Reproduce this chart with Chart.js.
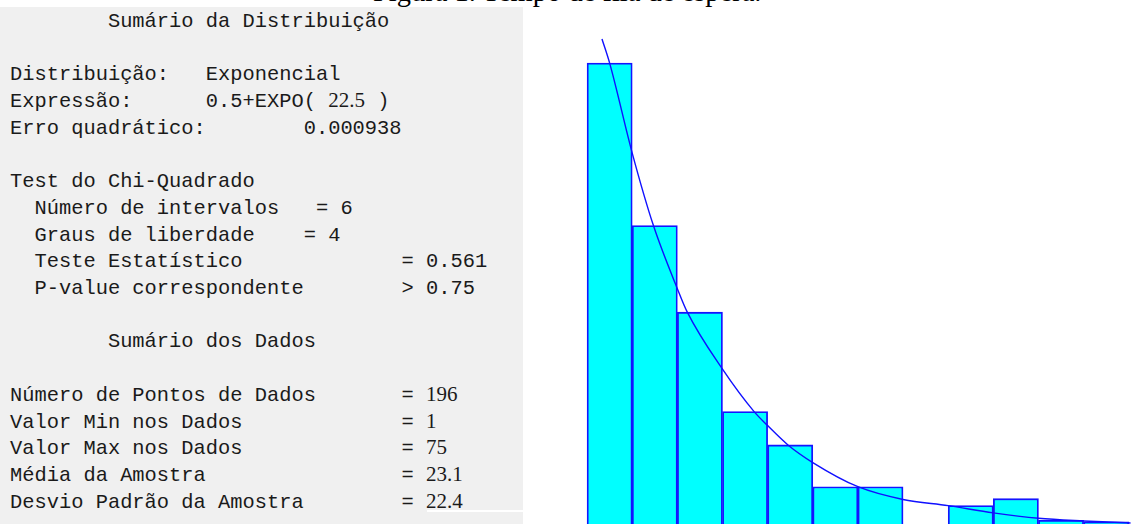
<!DOCTYPE html>
<html lang="pt">
<head>
<meta charset="utf-8">
<title>Sumário da Distribuição</title>
<script src="https://cdn.jsdelivr.net/npm/chart.js@4/dist/chart.umd.min.js"></script>
<style>
    html, body {
        margin: 0;
        padding: 0;
        width: 1131px;
        height: 524px;
        overflow: hidden;
        background: #ffffff;
    }
    #caption {
        position: absolute;
        left: 373px;
        top: -22px;
        font-family: "Liberation Serif", serif;
        font-size: 28.5px;
        line-height: 28px;
        color: #000;
        white-space: nowrap;
    }
    #panel {
        position: absolute;
        left: 0;
        top: 7px;
        width: 523px;
        height: 517px;
        background: #f0f0f0;
    }
    #panel .whiteline {
        position: absolute;
        left: 427px;
        top: 503px;
        width: 96px;
        height: 2px;
        background: #ffffff;
    }
    #summary {
        position: absolute;
        left: 10px;
        top: 2px;
        margin: 0;
        font-family: "Liberation Mono", monospace;
        font-size: 20.4px;
        line-height: 26.7px;
        color: #1a1a1a;
    }
    #summary .num {
        font-family: "Liberation Serif", serif;
        font-size: 21px;
        line-height: 0;
    }
    #chartBox {
        position: absolute;
        left: 560px;
        top: 0;
        width: 571px;
        height: 529px;
    }
</style>
</head>
<body>
<div id="caption">Figura 1. Tempo de fila de espera.</div>

<div id="panel">
<pre id="summary">        Sumário da Distribuição

Distribuição:   Exponencial
Expressão:      0.5+EXPO( <span class="num">22.5</span> )
Erro quadrático:        0.000938

Test do Chi-Quadrado
  Número de intervalos   = 6
  Graus de liberdade    = 4
  Teste Estatístico             = 0.561
  P-value correspondente        &gt; 0.75

        Sumário dos Dados

Número de Pontos de Dados       = <span class="num">196</span>
Valor Min nos Dados             = <span class="num">1</span>
Valor Max nos Dados             = <span class="num">75</span>
Média da Amostra                = <span class="num">23.1</span>
Desvio Padrão da Amostra        = <span class="num">22.4</span></pre>
<div class="whiteline"></div>
</div>

<div id="chartBox"><canvas id="histCanvas" width="571" height="529"></canvas></div>

<script>
// histograma: centro de cada intervalo (em unidades de intervalo) e altura relativa (%)
const binCenters = [0.5, 1.5, 2.5, 3.5, 4.5, 5.5, 6.5, 7.5, 8.5, 9.5, 10.5, 11.5];
const binHeights = [34.7, 22.6, 16.15, 8.74, 6.26, 3.15, 3.15, 0, 1.74, 2.26, 0.65, 0.54];

// curva exponencial ajustada
const curveX = [0.33, 0.5, 1.0, 1.47, 2.0, 2.22, 3.0, 3.7, 4.0, 4.45, 5.0, 6.0, 7.0, 8.0, 9.0, 10.0, 11.0, 12.04];
const curveY = [36.5, 34.7, 28.0, 22.6, 17.9, 16.15, 11.9, 8.74, 7.7, 6.26, 4.95, 3.15, 2.2, 1.74, 1.2, 0.8, 0.6, 0.45];

const barPoints = binCenters.map((x, i) => ({ x: x, y: binHeights[i] }));
const curvePoints = curveX.map((x, i) => ({ x: x, y: curveY[i] }));

let chart = new Chart(document.getElementById('histCanvas'), {
    type: 'bar',
    data: {
        datasets: [{
            type: 'line',
            label: 'Exponencial',
            data: curvePoints,
            borderColor: '#1010ff',
            borderWidth: 1.4,
            pointRadius: 0,
            fill: false,
            cubicInterpolationMode: 'monotone',
            order: 0
        }, {
            label: 'Frequência',
            data: barPoints,
            backgroundColor: '#00ffff',
            borderColor: '#1414ff',
            borderWidth: 1.8,
            barPercentage: 1,
            categoryPercentage: 1,
            order: 1
        }]
    },
    options: {
        responsive: false,
        animation: false,
        layout: { padding: 0 },
        plugins: {
            legend: { display: false },
            tooltip: { enabled: false }
        },
        scales: {
            x: {
                type: 'linear',
                min: -0.6,
                max: 12.05,
                offset: false,
                display: false
            },
            y: {
                min: 0,
                max: 39.4,
                display: false
            }
        }
    }
});
</script>
</body>
</html>
